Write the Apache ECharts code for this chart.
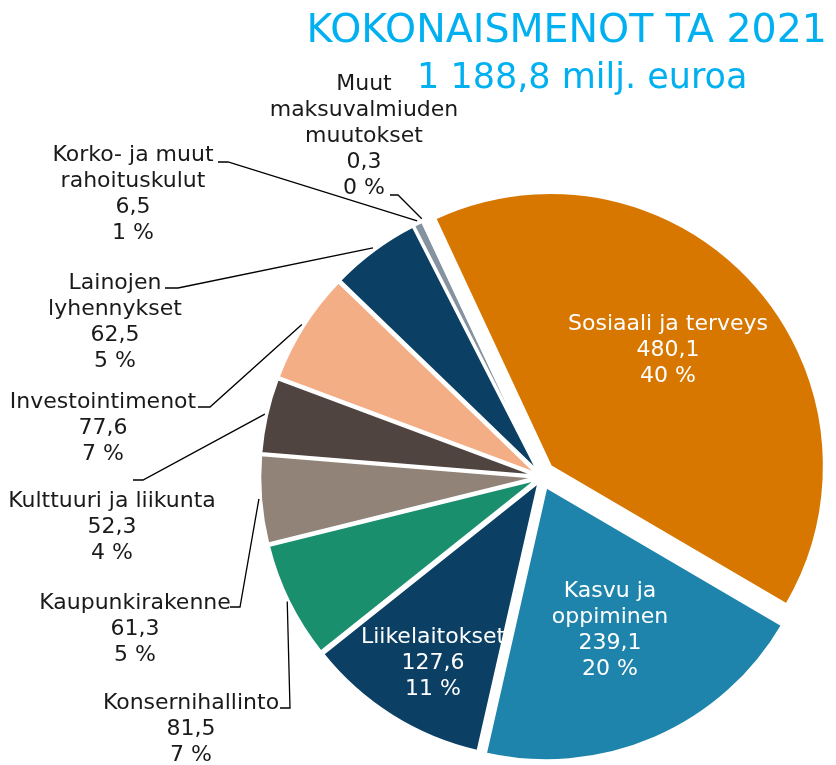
<!DOCTYPE html>
<html><head><meta charset="utf-8">
<script src="https://cdn.jsdelivr.net/npm/echarts@6/dist/echarts.min.js"></script>
<style>html,body{margin:0;padding:0;background:#fff}#c{width:836px;height:765px}</style>
</head><body><div id="c"></div>
<script>
const categories = ['Sosiaali ja terveys', 'Kasvu ja\noppiminen', 'Liikelaitokset', 'Konsernihallinto', 'Kaupunkirakenne', 'Kulttuuri ja liikunta', 'Investointimenot', 'Lainojen\nlyhennykset', 'Korko- ja muut\nrahoituskulut', 'Muut\nmaksuvalmiuden\nmuutokset'];
const values = [480.1, 239.1, 127.6, 81.5, 61.3, 52.3, 77.6, 62.5, 6.5, 0.3];
const titleText = 'KOKONAISMENOT TA 2021';
const subtitleText = '1 188,8 milj. euroa';

// styling / layout (not data)
const colors = ['#D77700', '#1E84AB', '#0B4064', '#1A8F6E', '#918377', '#4F4440', '#F4AE85', '#0B4064', '#8592A0', '#B0B8C0'];
const bigExplode = [true, true, false, false, false, false, false, false, false, false];
const insideLabel = [true, true, true, false, false, false, false, false, false, false];
const labelCenters = [[668, 350], [610, 630], [433, 663], [191, 729], [135, 629], [112, 527], [103, 428], [115, 322], [133, 194], [364, 136]];
const lineAnchors = [null, null, null,
  [[290, 708], [280, 708]], [[240, 607], [230, 607]], [[143, 480], [133, 480]],
  [[210, 407], [198, 407]], [[178, 288], [165, 288]], [[228, 162], [218, 162]], [[398, 195], [390, 195]]];

const FONT = 'DejaVu Sans';
const chart = echarts.init(document.getElementById('c'), null, {renderer: 'canvas'});

function fmt(p) {
  return p.name + '\n' + p.value.toFixed(1).replace('.', ',') + '\n' + Math.round(p.percent) + ' %';
}

const HIDDEN = {color: 'rgba(0,0,0,0)', borderWidth: 0};

// slice-drawing series (exploded via selection, no labels)
function sliceSeries(useBig, center, radius, offset) {
  return {
    type: 'pie',
    center: center,
    radius: [0, radius],
    startAngle: 115,
    clockwise: true,
    selectedMode: 'multiple',
    selectedOffset: offset,
    silent: true,
    emphasis: {disabled: true},
    label: {show: false},
    labelLine: {show: false},
    data: values.map((v, i) => ({
      value: v,
      name: categories[i],
      selected: true,
      itemStyle: bigExplode[i] === useBig
        ? {color: colors[i], borderColor: '#ffffff', borderWidth: 2.5}
        : HIDDEN
    }))
  };
}

// label-only series (transparent slices)
const labelSeries = {
  type: 'pie',
  center: [542, 476],
  radius: [0, 284],
  startAngle: 115,
  clockwise: true,
  selectedMode: false,
  silent: true,
  z: 5,
  avoidLabelOverlap: false,
  emphasis: {disabled: true},
  itemStyle: HIDDEN,
  label: {
    show: true,
    fontFamily: FONT,
    fontSize: 22,
    lineHeight: 26,
    align: 'center',
    formatter: fmt
  },
  labelLine: {length: 10, length2: 10, lineStyle: {color: '#000000', width: 1.3}},
  labelLayout: function (params) {
    const i = params.dataIndex;
    const out = {x: labelCenters[i][0], y: labelCenters[i][1], align: 'center', verticalAlign: 'middle', width: 300};
    if (lineAnchors[i] && params.labelLinePoints) {
      const p0 = params.labelLinePoints[0];
      out.labelLinePoints = [[p0[0], p0[1]], lineAnchors[i][0], lineAnchors[i][1]];
    }
    return out;
  },
  data: values.map((v, i) => ({
    value: v,
    name: categories[i],
    label: {
      position: insideLabel[i] ? 'inside' : 'outside',
      color: insideLabel[i] ? '#ffffff' : '#1a1a1a'
    },
    labelLine: {show: !insideLabel[i]}
  }))
};

chart.setOption({
  animation: false,
  backgroundColor: '#ffffff',
  title: [
    {text: titleText, right: 4, top: 7, textStyle: {color: '#00B0F0', fontSize: 39.5, fontWeight: 'normal', fontFamily: FONT}},
    {text: subtitleText, left: 412, top: 56, textStyle: {color: '#00B0F0', fontSize: 35, fontWeight: 'normal', fontFamily: FONT}}
  ],
  series: [
    sliceSeries(false, [542, 477], 276, 6),
    sliceSeries(true, [541, 475], 273.5, 13),
    labelSeries
  ]
});
</script></body></html>
